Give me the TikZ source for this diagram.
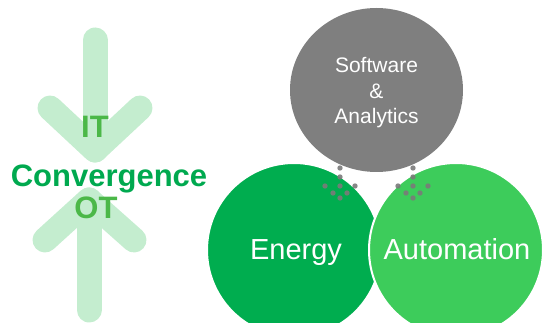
\documentclass[tikz,border=0pt]{standalone}
\usepackage{fontspec}
\setmainfont{Liberation Sans}
\usetikzlibrary{shapes.geometric}
\definecolor{arrowgreen}{HTML}{C4EDCF}
\definecolor{itgreen}{HTML}{4BB848}
\definecolor{convgreen}{HTML}{00A94F}
\definecolor{energygreen}{HTML}{00AD4F}
\definecolor{autogreen}{HTML}{3DCC5B}
\definecolor{swgray}{HTML}{7F7F7F}
\definecolor{dotgray}{HTML}{7A7A7A}
\tikzset{
  bigarrow/.style={draw=arrowgreen, line width=25pt, line cap=round, line join=round},
  sidetext/.style={anchor=base, inner sep=0pt, font=\fontsize{31}{31}\selectfont\bfseries},
  disc/.style={circle, inner sep=0pt, draw=white, line width=2pt},
  whitetext/.style={anchor=base, inner sep=0pt, text=white},
  dotmark/.style={fill=dotgray, opacity=0.9},
}
\begin{document}
\begin{tikzpicture}[x=1pt,y=-1pt]
\useasboundingbox (0,0) rectangle (542,323);
% arrows
\coordinate (ta) at (95,40);
\coordinate (tv) at (95,150);
\coordinate (tl) at (50,108);
\coordinate (tr) at (140,108);
\draw[bigarrow] (ta) -- (tv);
\draw[bigarrow] (tl) -- (tv) -- (tr);
\coordinate (ba) at (89,310);
\coordinate (bv) at (89,200);
\coordinate (bl) at (45,240);
\coordinate (br) at (134,240);
\draw[bigarrow] (ba) -- (bv);
\draw[bigarrow] (bl) -- (bv) -- (br);
% side texts
\node[sidetext, text=itgreen] (it) at (95,138) {IT};
\node[sidetext, text=convgreen] (conv) at (109,187) {Convergence};
\node[sidetext, text=itgreen] (ot) at (96,219) {OT};
% circles
\node[disc, fill=energygreen, minimum size=174pt] (energy) at (294,250) {};
\node[disc, fill=autogreen, minimum size=174pt] (auto) at (456,250) {};
\node[ellipse, inner sep=0pt, fill=swgray, minimum width=173pt, minimum height=164pt] (sw) at (376.5,90) {};
% texts
\node[whitetext, font=\fontsize{21}{21}\selectfont] (t1) at (376.5,73) {Software};
\node[whitetext, font=\fontsize{21}{21}\selectfont] (t2) at (376.5,99) {\&};
\node[whitetext, font=\fontsize{21}{21}\selectfont] (t3) at (376.5,124) {Analytics};
\node[whitetext, font=\fontsize{29}{29}\selectfont] (te) at (296,260) {Energy};
\node[whitetext, font=\fontsize{29}{29}\selectfont] (ta2) at (457,260) {Automation};
% dot patterns
\foreach \cx in {340,413} {
  \foreach \dx/\dy in {0/168,0/177,-15/186,0/186,15/186,-7/193,7/193,0/198} {
    \fill[dotmark] (\cx+\dx,\dy) circle (2.7pt);
  }
}
\end{tikzpicture}
\end{document}
